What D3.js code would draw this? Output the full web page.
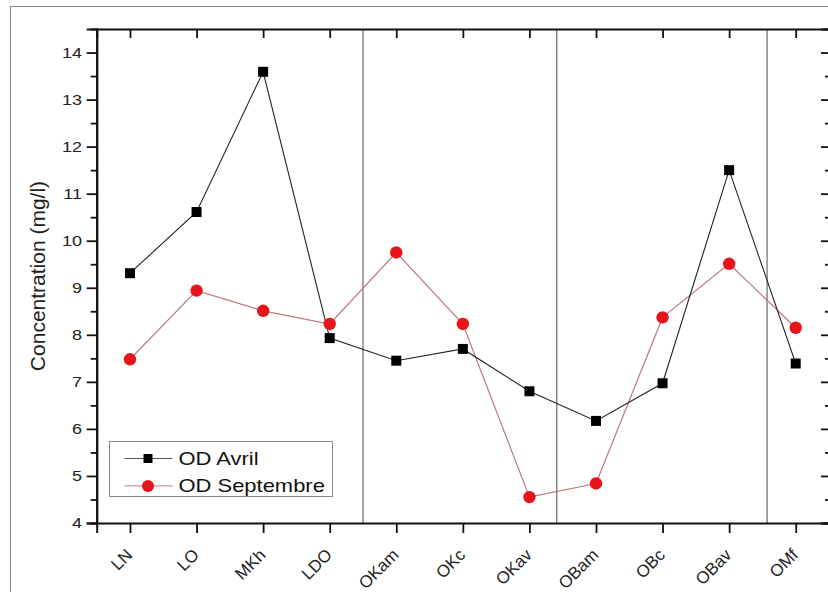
<!DOCTYPE html>
<html>
<head>
<meta charset="utf-8">
<script src="https://cdn.jsdelivr.net/npm/d3@7"></script>
<style>
  body { margin: 0; background: #fff; }
  svg { display: block; font-family: "Liberation Sans", Arial, sans-serif; }
</style>
</head>
<body>
<div id="chart"></div>
<script>
// sampling stations
var categories = ["LN", "LO", "MKh", "LDO", "OKam", "OKc", "OKav", "OBam", "OBc", "OBav", "OMf"];
// dissolved oxygen, mg/l
var odAvril = [9.31, 10.61, 13.59, 7.93, 7.45, 7.70, 6.80, 6.17, 6.97, 11.50, 7.39];
var odSeptembre = [7.48, 8.94, 8.51, 8.23, 9.75, 8.23, 4.55, 4.84, 8.37, 9.51, 8.15];
// y ticks
var yMajor = [4, 5, 6, 7, 8, 9, 10, 11, 12, 13, 14];
var yMinor = [4.5, 5.5, 6.5, 7.5, 8.5, 9.5, 10.5, 11.5, 12.5, 13.5];
// vertical lines between river groups (in station index units)
var groupBreaks = [3.5, 6.41, 9.57];

var W = 828, H = 592;
var mLeft = 96.7, mRight = 829, mTop = 29, mBottom = 523;

var svg = d3.select("#chart").append("svg")
    .attr("width", W)
    .attr("height", H);

// outer frame of the screenshot
svg.append("rect")
    .attr("x", 10.5).attr("y", 6.5)
    .attr("width", W + 10).attr("height", H + 10)
    .attr("fill", "none")
    .attr("stroke", "#8a8a8a")
    .attr("stroke-width", 1);

var x = d3.scaleLinear().domain([-0.5, categories.length - 0.5]).range([mLeft, mRight]);
var y = d3.scaleLinear().domain([4, 14.5]).range([mBottom, mTop]);
var idx = d3.range(categories.length);

// group separators
svg.selectAll(".sep")
    .data(groupBreaks)
    .enter().append("line")
    .attr("class", "sep")
    .attr("x1", function(d) { return x(d); })
    .attr("x2", function(d) { return x(d); })
    .attr("y1", y(14.5))
    .attr("y2", y(4))
    .attr("stroke", "#6a6a6a")
    .attr("stroke-width", 1.2);

// axes
var axisStyle = function(g) {
  g.select(".domain").attr("stroke", "#111").attr("stroke-width", 2);
  g.selectAll(".tick line").attr("stroke", "#111").attr("stroke-width", 1.8);
};

// left minor + major
svg.append("g")
    .attr("transform", "translate(" + mLeft + ",0)")
    .call(d3.axisLeft(y).tickValues(yMinor).tickSize(6).tickFormat(""))
    .call(axisStyle);
var yAxis = svg.append("g")
    .attr("transform", "translate(" + mLeft + ",0)")
    .call(d3.axisLeft(y).tickValues(yMajor).tickSize(10).tickPadding(3).tickFormat(d3.format("d")))
    .call(axisStyle);
yAxis.selectAll(".tick text")
    .attr("font-size", 15)
    .attr("fill", "#222")
    .attr("x", -14.7 / 1.2)
    .attr("transform", "scale(1.2,1)");

// right axis, inward ticks
svg.append("g")
    .attr("transform", "translate(" + mRight + ",0)")
    .call(d3.axisLeft(y).tickValues(yMinor).tickSize(4).tickFormat(""))
    .call(axisStyle);
svg.append("g")
    .attr("transform", "translate(" + mRight + ",0)")
    .call(d3.axisLeft(y).tickValues(yMajor).tickSize(8).tickFormat(""))
    .call(axisStyle);

// top axis, inward ticks
svg.append("g")
    .attr("transform", "translate(0," + mTop + ")")
    .call(d3.axisBottom(x).tickValues(idx).tickSize(9).tickFormat(""))
    .call(axisStyle);

// bottom axis with rotated station names
var xAxis = svg.append("g")
    .attr("transform", "translate(0," + mBottom + ")")
    .call(d3.axisBottom(x).tickValues(idx).tickSize(10).tickFormat(function(i) { return categories[i]; }))
    .call(axisStyle);
xAxis.selectAll(".tick text")
    .attr("font-size", 17)
    .attr("fill", "#222")
    .attr("text-anchor", "end")
    .attr("x", 0).attr("y", 0).attr("dy", 0)
    .attr("transform", "translate(3,33) rotate(-45)");

// y label
svg.append("text")
    .attr("transform", "translate(45," + (y(9.25)) + ") rotate(-90)")
    .attr("text-anchor", "middle")
    .attr("font-size", 21)
    .attr("fill", "#222")
    .text("Concentration (mg/l)");

// series
var line = d3.line()
    .x(function(d, i) { return x(i); })
    .y(function(d) { return y(d); });

svg.append("path")
    .datum(odSeptembre)
    .attr("d", line)
    .attr("fill", "none")
    .attr("stroke", "#b9797a")
    .attr("stroke-width", 1.2);

svg.append("path")
    .datum(odAvril)
    .attr("d", line)
    .attr("fill", "none")
    .attr("stroke", "#222")
    .attr("stroke-width", 1.1);

svg.selectAll(".sept")
    .data(odSeptembre)
    .enter().append("circle")
    .attr("class", "sept")
    .attr("cx", function(d, i) { return x(i); })
    .attr("cy", function(d) { return y(d); })
    .attr("r", 6.2)
    .attr("fill", "#e8141b");

svg.selectAll(".avr")
    .data(odAvril)
    .enter().append("rect")
    .attr("class", "avr")
    .attr("x", function(d, i) { return x(i) - 5; })
    .attr("y", function(d) { return y(d) - 5; })
    .attr("width", 10)
    .attr("height", 10)
    .attr("fill", "#000");

// legend
var legend = svg.append("g").attr("transform", "translate(109.5,441.5)");
legend.append("rect")
    .attr("width", 223).attr("height", 55)
    .attr("fill", "#fff")
    .attr("stroke", "#8a8a8a");

var items = [
  { name: "OD Avril", color: "#555", shape: "square" },
  { name: "OD Septembre", color: "#c07a7a", shape: "circle" }
];
items.forEach(function(it, k) {
  var row = legend.append("g").attr("transform", "translate(0," + (17 + k * 27.4) + ")");
  row.append("line")
      .attr("x1", 15).attr("x2", 63)
      .attr("stroke", it.color).attr("stroke-width", 1);
  if (it.shape == "square") {
    row.append("rect").attr("x", 34).attr("y", -4.5).attr("width", 9).attr("height", 9).attr("fill", "#000");
  } else {
    row.append("circle").attr("cx", 38.5).attr("r", 6).attr("fill", "#e8141b");
  }
  row.append("text")
      .attr("x", 69 / 1.22)
      .attr("dy", "0.36em")
      .attr("font-size", 18)
      .attr("fill", "#111")
      .attr("transform", "scale(1.22,1)")
      .text(it.name);
});
</script>
</body>
</html>
